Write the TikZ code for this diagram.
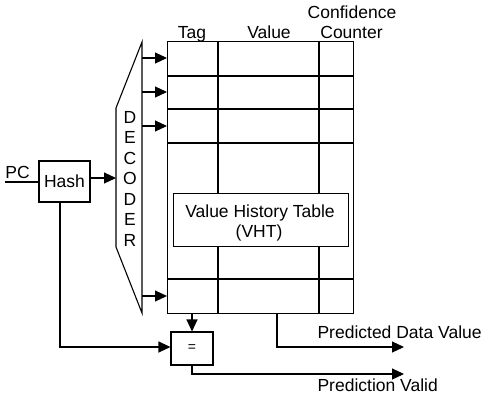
\documentclass[tikz,border=0pt]{standalone}
\usepackage{fontspec}
\setmainfont{Liberation Sans}
\usetikzlibrary{arrows.meta}
\begin{document}
\begin{tikzpicture}[x=1pt,y=-1pt,line width=1.1pt,
  txt/.style={font=\fontsize{17.5}{20}\selectfont,inner sep=0pt},
  blk/.style={draw,inner sep=0pt,font=\fontsize{17.5}{20}\selectfont},
  arr/.style={-{Triangle[length=12pt,width=11pt]}}]
\useasboundingbox (0,0) rectangle (484,397);

% value history table: outer frame, column lines and row lines
\node[draw,inner sep=0pt,minimum width=186pt,minimum height=272pt,anchor=north west] (tbl) at (167,41) {};
\coordinate (c1) at (218,41);
\coordinate (c2) at (319,41);
\draw (c1) -- (218,193) (218,246) -- (218,313);
\draw (c2) -- (319,193) (319,246) -- (319,313);
\foreach \r in {76,109,143,279}
  \draw (167,\r) -- (353,\r);

% label box over the table
\node[blk,fill=white,minimum width=175pt,minimum height=53pt,anchor=north west] (vht) at (173,193) {};
\node[txt,anchor=base] (vhtA) at (260,217) {Value History Table};
\node[txt,anchor=base] (vhtB) at (259,237) {(VHT)};

% column headings
\node[txt,anchor=base] (hTag) at (192,38) {Tag};
\node[txt,anchor=base] (hVal) at (269,38) {Value};
\node[txt,anchor=base] (hConf) at (352,18) {Confidence};
\node[txt,anchor=base] (hCnt) at (351.5,38) {Counter};

% decoder
\coordinate (dTop) at (142,42);
\coordinate (dBot) at (142,313);
\draw (116,108) -- (dTop) -- (dBot) -- (116,247) -- cycle;
\foreach \ch [count=\i from 0] in {D,E,C,O,D,E,R}
  \node[txt,anchor=base] (dec\i) at (130,123+20.5*\i) {\ch};

% decoder outputs into table rows
\foreach \yy [count=\i] in {58,92,126,296} {
  \coordinate (o\i) at (142,\yy);
  \draw[arr] (o\i) -- (o\i -| tbl.west);
}

% hash unit
\node[blk,minimum width=51pt,minimum height=41pt] (hash) at (64.5,181.5) {Hash};
\node[txt,anchor=base] (pc) at (17.5,178) {PC};
\coordinate (pcIn) at (5,182);
\draw (pcIn) -- (pcIn -| hash.west);
\coordinate (hOut) at (90,178);
\draw[arr] (hOut) -- (116,178);

% comparator
\node[blk,minimum width=42pt,minimum height=33pt] (eq) at (192,348.5) {\fontsize{14}{16}\selectfont =};
\coordinate (hDown) at (60,202);
\draw[arr] (hDown) -- (60,347) -- (eq.west |- 0,347);
\draw[arr] (tbl.south -| eq) -- (eq.north);

% outputs
\coordinate (pvEnd) at (404,374);
\draw[arr] (eq.south) -- (192,374) -- (pvEnd);
\node[txt,anchor=base west] (pv) at (317,391) {Prediction Valid};

\coordinate (pdEnd) at (404,347);
\draw[arr] (tbl.south -| 277,0) -- (277,347) -- (pdEnd);
\node[txt,anchor=base west] (pd) at (317,338) {Predicted Data Value};
\end{tikzpicture}
\end{document}
